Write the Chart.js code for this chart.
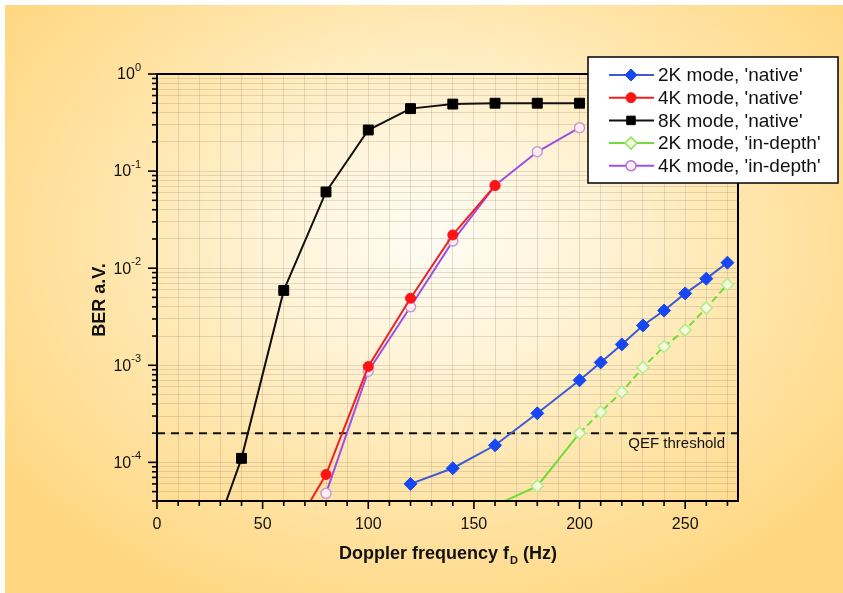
<!DOCTYPE html>
<html><head><meta charset="utf-8">
<script src="https://cdn.jsdelivr.net/npm/chart.js@4.4.1/dist/chart.umd.min.js"></script>
<style>
html,body{margin:0;padding:0;background:#fff;}
#wrap{position:relative;width:843px;height:593px;overflow:hidden;background:#fff;}
#bg{position:absolute;left:5px;top:5px;right:0;bottom:0;
 background:radial-gradient(ellipse 62% 68% at 51% 40%, #fffcf4 0%, #fff4d8 30%, #ffe6ad 60%, #ffd781 100%);}
canvas{position:absolute;left:0;top:0;}
</style></head><body>
<div id="wrap"><div id="bg"></div><canvas id="c" width="843" height="593"></canvas></div>
<script>
// ---- data ----
const freq2KNative = [120,140,160,180,200,210,220,230,240,250,260,270];
const ber2KNative  = [6.0e-5,8.7e-5,1.5e-4,3.2e-4,7.0e-4,1.07e-3,1.64e-3,2.57e-3,3.66e-3,5.5e-3,7.8e-3,1.14e-2];
const freq4KNative = [70,80,100,120,140,160];
const ber4KNative  = [3.2e-5,7.5e-5,9.7e-4,4.9e-3,2.2e-2,7.1e-2];
const freq8KNative = [30,40,60,80,100,120,140,160,180,200];
const ber8KNative  = [2.7e-5,1.1e-4,5.9e-3,6.1e-2,0.265,0.44,0.49,0.50,0.50,0.50];
const freq2KDepth  = [160,180,200,210,220,230,240,250,260,270];
const ber2KDepth   = [3.6e-5,5.7e-5,2.0e-4,3.3e-4,5.3e-4,9.5e-4,1.56e-3,2.3e-3,3.9e-3,6.8e-3];
const freq4KDepth  = [80,100,120,140,160,180,200];
const ber4KDepth   = [4.8e-5,8.7e-4,4.0e-3,1.9e-2,7.1e-2,0.158,0.28];
const qefThreshold = 2e-4;
const qefLabel = 'QEF threshold';
const seriesLabels = ["2K mode, 'native'","4K mode, 'native'","8K mode, 'native'","2K mode, 'in-depth'","4K mode, 'in-depth'"];
const xMin = 0, xMax = 275;
const xTickValues = [0,10,20,30,40,50,60,70,80,90,100,110,120,130,140,150,160,170,180,190,200,210,220,230,240,250,260,270];
const xLabelValues = [0,50,100,150,200,250];
const yMin = 4e-5, yMax = 1;
const yDecades = [1e-4,1e-3,1e-2,1e-1,1];
const yDecadeExponents = ['-4','-3','-2','-1','0'];
const yMantissas = [1,2,3,4,5,6,7,8,9];
const xTitle = 'Doppler frequency f', xTitleSub = 'D', xTitleEnd = ' (Hz)';
const yTitle = 'BER a.V.';

const FONT = '"Liberation Sans", Arial, Helvetica, sans-serif';
const gridColor = 'rgba(165,150,125,0.30)';

const pts = (xs, ys) => xs.map((x, i) => ({x, y: ys[i]}));
// all minor/major log positions in range
const yGridValues = [];
[1e-5,1e-4,1e-3,1e-2,1e-1,1].forEach(d => yMantissas.forEach(m => {
  const v = +(m*d).toPrecision(3);
  if (v >= yMin*0.999 && v <= yMax*1.001) yGridValues.push(v);
}));

const datasets = [
  {label: seriesLabels[0], data: pts(freq2KNative, ber2KNative), borderColor:'#3c5bd2', borderWidth:2,
   pointStyle:'rectRot', pointRadius:6.5, pointBackgroundColor:'#1747f2', pointBorderColor:'#1747f2', pointBorderWidth:1},
  {label: seriesLabels[1], data: pts(freq4KNative, ber4KNative), borderColor:'#ee2222', borderWidth:2,
   pointStyle:'circle', pointRadius:5, pointBackgroundColor:'#ff1414', pointBorderColor:'#ff1414', pointBorderWidth:1},
  {label: seriesLabels[2], data: pts(freq8KNative, ber8KNative), borderColor:'#111', borderWidth:2,
   pointStyle:'rect', pointRadius:7, pointBackgroundColor:'#000', pointBorderColor:'#000', pointBorderWidth:1},
  {label: seriesLabels[3], data: pts(freq2KDepth, ber2KDepth), borderColor:'#6fdc3c', borderWidth:2,
   pointStyle:'rectRot', pointRadius:6, pointBackgroundColor:'#f6fbdc', pointBorderColor:'#b2ec8e', pointBorderWidth:1.5,
   segment:{borderDash: c => c.p0.parsed.x >= 200 ? [7,4] : undefined}},
  {label: seriesLabels[4], data: pts(freq4KDepth, ber4KDepth), borderColor:'#a04ee6', borderWidth:2,
   pointStyle:'circle', pointRadius:5, pointBackgroundColor:'#fdeef0', pointBorderColor:'#c89ad8', pointBorderWidth:1.5},
  {label: qefLabel, isRef:true, data: [{x:xMin,y:qefThreshold},{x:xMax,y:qefThreshold}], borderColor:'#111', borderWidth:2,
   borderDash:[8,6], pointRadius:0}
];
datasets.forEach(d => { d.clip = 0; d.tension = 0; d.fill = false; d.showLine = true; });
const legendStroke = ['#1747f2', '#ff1414', '#000', '#8fe462', '#b070e0'];

function drawMarker(ctx, ds, x, y, stroke) {
  ctx.save();
  ctx.fillStyle = ds.pointBackgroundColor;
  ctx.strokeStyle = stroke || ds.pointBorderColor;
  ctx.lineWidth = ds.pointBorderWidth;
  Chart.helpers.drawPoint(ctx, {pointStyle: ds.pointStyle, radius: Math.min(ds.pointRadius, 6), borderWidth: ds.pointBorderWidth, rotation: 0}, x, y);
  ctx.restore();
}

const decor = {
  id: 'decor',
  afterDraw(chart) {
    const ctx = chart.ctx, a = chart.chartArea;
    const xs = chart.scales.x, ys = chart.scales.y;
    ctx.save();
    // frame
    ctx.strokeStyle = '#000'; ctx.lineWidth = 2;
    ctx.strokeRect(a.left, a.top, a.right - a.left, a.bottom - a.top);
    // x tick marks
    ctx.lineWidth = 1.6;
    xTickValues.forEach(v => {
      const px = xs.getPixelForValue(v);
      const len = xLabelValues.includes(v) ? 8 : 5;
      ctx.beginPath(); ctx.moveTo(px, a.bottom); ctx.lineTo(px, a.bottom + len); ctx.stroke();
    });
    // y tick marks
    yGridValues.forEach(v => {
      const py = ys.getPixelForValue(v);
      const major = yDecades.some(d => Math.abs(d - v) / d < 1e-6);
      const len = major ? 9 : 5;
      ctx.beginPath(); ctx.moveTo(a.left, py); ctx.lineTo(a.left - len, py); ctx.stroke();
    });
    // y labels with superscripts
    ctx.fillStyle = '#111'; ctx.textBaseline = 'middle';
    yDecades.forEach((d, i) => {
      const py = ys.getPixelForValue(d);
      ctx.font = '16px ' + FONT;
      const w1 = ctx.measureText('10').width;
      ctx.font = '11px ' + FONT;
      const w2 = ctx.measureText(yDecadeExponents[i]).width;
      const right = a.left - 16;
      ctx.textAlign = 'left';
      ctx.font = '16px ' + FONT;
      ctx.fillText('10', right - w2 - w1, py + 1);
      ctx.font = '11px ' + FONT;
      ctx.fillText(yDecadeExponents[i], right - w2, py - 6);
    });
    // y title
    ctx.save();
    ctx.translate(100, 300); ctx.rotate(-Math.PI/2);
    ctx.font = 'bold 18px ' + FONT; ctx.textAlign = 'center'; ctx.textBaseline = 'middle';
    ctx.fillText(yTitle, 0, 0);
    ctx.restore();
    // x title with subscript
    ctx.font = 'bold 18px ' + FONT;
    const t1 = ctx.measureText(xTitle).width, t3 = ctx.measureText(xTitleEnd).width;
    ctx.font = 'bold 11px ' + FONT;
    const t2 = ctx.measureText(xTitleSub).width;
    let sx = (a.left + a.right) / 2 - (t1 + t2 + t3) / 2;
    const ty = 554;
    ctx.textAlign = 'left'; ctx.textBaseline = 'middle';
    ctx.font = 'bold 18px ' + FONT; ctx.fillText(xTitle, sx, ty);
    ctx.font = 'bold 11px ' + FONT; ctx.fillText(xTitleSub, sx + t1 + 1, ty + 7);
    ctx.font = 'bold 18px ' + FONT; ctx.fillText(xTitleEnd, sx + t1 + t2 + 1, ty);
    // QEF label
    ctx.font = '15px ' + FONT; ctx.textAlign = 'right'; ctx.textBaseline = 'middle';
    ctx.fillText(qefLabel, a.right - 13, ys.getPixelForValue(qefThreshold) + 11);
    // legend
    const L = 588, T = 57, R = 838, B = 183;
    ctx.fillStyle = '#fff'; ctx.fillRect(L, T, R - L, B - T);
    ctx.strokeStyle = '#000'; ctx.lineWidth = 1.5; ctx.strokeRect(L, T, R - L, B - T);
    const items = chart.data.datasets.filter(d => !d.isRef);
    items.forEach((ds, i) => {
      const y = 75 + i * 22.7;
      ctx.strokeStyle = ds.borderColor; ctx.lineWidth = 2; ctx.setLineDash([]);
      ctx.beginPath(); ctx.moveTo(609, y); ctx.lineTo(654, y); ctx.stroke();
      drawMarker(ctx, ds, 631, y, legendStroke[i]);
      ctx.fillStyle = '#111'; ctx.font = '19px ' + FONT; ctx.textAlign = 'left'; ctx.textBaseline = 'middle';
      ctx.fillText(ds.label, 658, y + 1);
    });
    ctx.restore();
  }
};

new Chart(document.getElementById('c'), {
  type: 'line',
  data: {datasets},
  options: {
    responsive: false, animation: false, devicePixelRatio: 1,
    layout: {padding: {top: 74, right: 105, left: 0, bottom: 0}},
    plugins: {legend: {display: false}, tooltip: {enabled: false}, title: {display: false}},
    scales: {
      x: {type: 'linear', min: xMin, max: xMax,
        afterBuildTicks: s => { s.ticks = xTickValues.map(v => ({value: v})); },
        afterFit: s => { s.height = 92; },
        ticks: {autoSkip: false, maxRotation: 0, padding: 14, color: '#111', font: {family: FONT, size: 16},
          callback: v => xLabelValues.includes(v) ? String(v) : ''},
        grid: {color: gridColor, lineWidth: 1, drawTicks: false},
        border: {display: true, color: '#000', width: 2}
      },
      y: {type: 'logarithmic', min: yMin, max: yMax,
        afterBuildTicks: s => { s.ticks = yGridValues.map(v => ({value: v})); },
        afterFit: s => { s.width = 157; },
        ticks: {display: false},
        grid: {color: gridColor, lineWidth: 1, drawTicks: false},
        border: {display: true, color: '#000', width: 2}
      }
    }
  },
  plugins: [decor]
});
</script>
</body></html>
